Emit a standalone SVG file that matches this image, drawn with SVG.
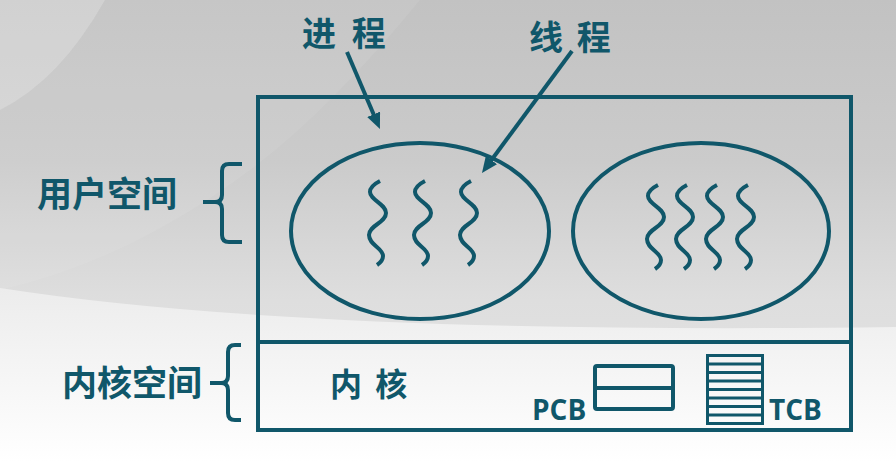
<svg xmlns="http://www.w3.org/2000/svg" xmlns:xlink="http://www.w3.org/1999/xlink" width="896" height="462" viewBox="0 0 896 462">
<style>
.ln{fill:none;stroke:#10576a;stroke-width:4}
.thin{fill:none;stroke:#10576a;stroke-width:3}
.cjk{font-family:"Noto Sans CJK SC","Noto Sans",sans-serif;font-weight:bold;fill:#10576a}
.lat{font-family:"Open Sans","Liberation Sans",sans-serif;font-weight:bold;fill:#10576a}
</style>
<defs>
<linearGradient id="bg" x1="0" y1="0" x2="0" y2="1">
<stop offset="0" stop-color="#c2c2c2"/>
<stop offset="0.35" stop-color="#cbcbcb"/>
<stop offset="0.65" stop-color="#dedede"/>
<stop offset="1" stop-color="#e6e6e6"/>
</linearGradient>
<linearGradient id="bg2" x1="0" y1="0" x2="0" y2="1">
<stop offset="0" stop-color="#ececec"/>
<stop offset="1" stop-color="#ffffff"/>
</linearGradient>
<marker id="ah" markerWidth="16" markerHeight="14" refX="4" refY="7" orient="auto" markerUnits="userSpaceOnUse">
<path d="M0,0 L16,7 L0,14 Z" fill="#10576a"/>
</marker>
<path id="sq" class="ln" d="M0 0 C-6 3,-10 6,-10 11 C-10 19,6 23,6 32 C6 42,-11 44,-11 54 C-11 64,3 67,3 75 C3 79,0 82,-3 84"/>
</defs>
<g id="background">
<rect width="896" height="462" fill="url(#bg)"/>
<path d="M105 0 H420 Q330 110 250 170 Q130 260 0 290 V110 Q60 80 105 0 Z" fill="#ffffff" opacity="0.07"/>
<path d="M0 0 H105 Q60 80 0 110 Z" fill="#ffffff" opacity="0.25"/>
<path d="M0 288 Q300 335 896 327 V462 H0 Z" fill="url(#bg2)"/>
</g>
<g id="system-box">
<rect class="ln" x="258" y="97" width="593" height="333"/>
<line class="ln" x1="258" y1="342" x2="851" y2="342"/>
</g>
<g id="process-1">
<ellipse class="ln" cx="420" cy="231" rx="129" ry="88"/>
<use xlink:href="#sq" x="380" y="181"/>
<use xlink:href="#sq" x="425" y="181"/>
<use xlink:href="#sq" x="471" y="181"/>
</g>
<g id="process-2">
<ellipse class="ln" cx="701" cy="231" rx="128" ry="88"/>
<use xlink:href="#sq" x="658" y="185"/>
<use xlink:href="#sq" x="687" y="185"/>
<use xlink:href="#sq" x="717" y="185"/>
<use xlink:href="#sq" x="748" y="185"/>
</g>
<g id="label-process">
<text class="cjk" x="302" y="46" font-size="34" word-spacing="8">进 程</text>
</g>
<g id="label-thread">
<text class="cjk" x="529" y="50" font-size="34" word-spacing="6">线 程</text>
</g>
<g id="user-space">
<text class="cjk" x="37" y="207" font-size="35">用户空间</text>
<path class="ln" d="M242 164 H229 Q222 164 222 171 V195 Q222 202 215 202 H203 M215 202 Q222 202 222 209 V235 Q222 242 229 242 H242"/>
</g>
<g id="kernel-space">
<text class="cjk" x="62" y="396" font-size="35">内核空间</text>
<path class="ln" d="M241 345 H235 Q228 345 228 352 V376 Q228 383 221 383 H210 M221 383 Q228 383 228 390 V413 Q228 420 235 420 H241"/>
</g>
<g id="kernel">
<text class="cjk" x="330" y="396" font-size="32" word-spacing="6">内 核</text>
</g>
<g id="pcb">
<rect class="ln" x="595" y="366" width="78" height="43" rx="2"/>
<line class="ln" x1="595" y1="388" x2="673" y2="388"/>
<text class="lat" x="532" y="420" font-size="28">PCB</text>
</g>
<g id="tcb">
<rect class="thin" x="707.5" y="355.5" width="55" height="68"/>
<path class="thin" d="M707.5 364 H762.5 M707.5 372.5 H762.5 M707.5 381 H762.5 M707.5 389.5 H762.5 M707.5 398 H762.5 M707.5 406.5 H762.5 M707.5 415 H762.5"/>
<text class="lat" x="769" y="420" font-size="28">TCB</text>
</g>
<g id="connectors">
<line class="ln" x1="347" y1="52" x2="375.2" y2="118" marker-end="url(#ah)"/>
<line class="ln" x1="572" y1="51" x2="489.1" y2="163.3" marker-end="url(#ah)"/>
</g>
</svg>
